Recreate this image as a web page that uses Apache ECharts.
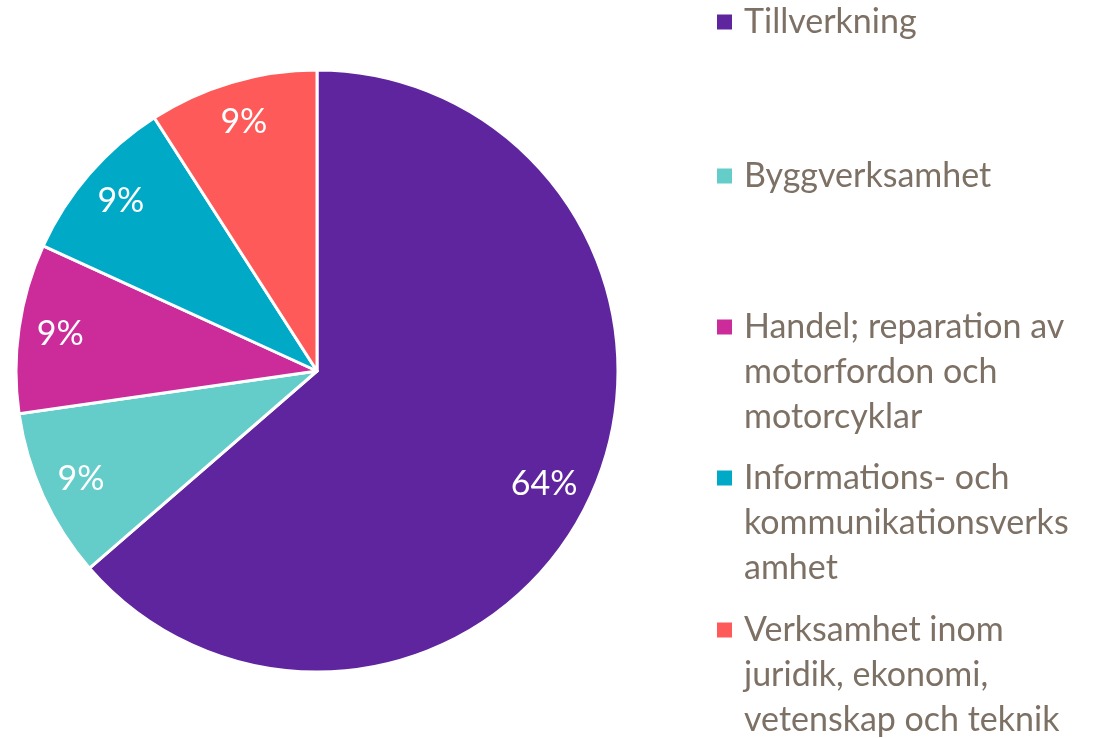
<!DOCTYPE html>
<html><head><meta charset="utf-8">
<script src="https://cdn.jsdelivr.net/npm/echarts@6/dist/echarts.min.js"></script>
<style>html,body{margin:0;padding:0;background:#fff}#c{width:1101px;height:738px}</style>
</head><body><div id="c"></div>
<script>
const categories = ['Tillverkning','Byggverksamhet','Handel; reparation av motorfordon och motorcyklar','Informations- och kommunikationsverksamhet','Verksamhet inom juridik, ekonomi, vetenskap och teknik'];
const legendLabels = ['Tillverkning','Byggverksamhet','Handel; reparation av\nmotorfordon och\nmotorcyklar','Informations- och\nkommunikationsverks\namhet','Verksamhet inom\njuridik, ekonomi,\nvetenskap och teknik'];
const values = [7,1,1,1,1];
const colors = ['#5F259F','#64CCC9','#CB2C9A','#00A9C6','#FF5A5A'];

const FONT = 'Lato';
const FS = 34;
const LH = 45;
const legendFirstLineCenters = [22,176,327,478,630];
const legends = categories.map((c,i)=>{
  const n = legendLabels[i].split('\n').length;
  const text = '\n'.repeat(n-1) + legendLabels[i];
  const blockH = (2*n-1)*LH;
  return {
    show:true, orient:'vertical', left:715, top: legendFirstLineCenters[i] - blockH/2,
    itemWidth:17, itemHeight:17, itemGap:0, padding:0,
    selectedMode:false,
    data:[{name:c, icon:'rect', itemStyle:{color:colors[i]}}],
    formatter: ()=>text,
    textStyle:{fontFamily:FONT, fontSize:FS, lineHeight:LH, color:'#7D7064', padding:[0,0,0,6]}
  };
});

const chart = echarts.init(document.getElementById('c'));
chart.setOption({
  animation:false,
  color: colors,
  legend: legends,
  series:[{
    type:'pie', center:[317,371], radius:[0,301], startAngle:90, clockwise:true,
    data: categories.map((c,i)=>({name:c, value:values[i], itemStyle:{color:colors[i]}})),
    itemStyle:{borderColor:'#fff', borderWidth:3},
    label:{show:false}, labelLine:{show:false}, emphasis:{disabled:true}
  },{
    type:'pie', center:[317,371], radius:[212,301], startAngle:90, clockwise:true, silent:true,
    data: categories.map((c,i)=>({name:c, value:values[i], label: i===0 ? {offset:[-9,5]} : undefined})),
    itemStyle:{color:'rgba(0,0,0,0)', borderWidth:0},
    label:{show:true, position:'inside', color:'#fff', fontFamily:FONT, fontSize:FS,
      formatter:p=>Math.round(p.percent)+'%'},
    labelLine:{show:false}, emphasis:{disabled:true}, tooltip:{show:false}
  }]
});
</script></body></html>
